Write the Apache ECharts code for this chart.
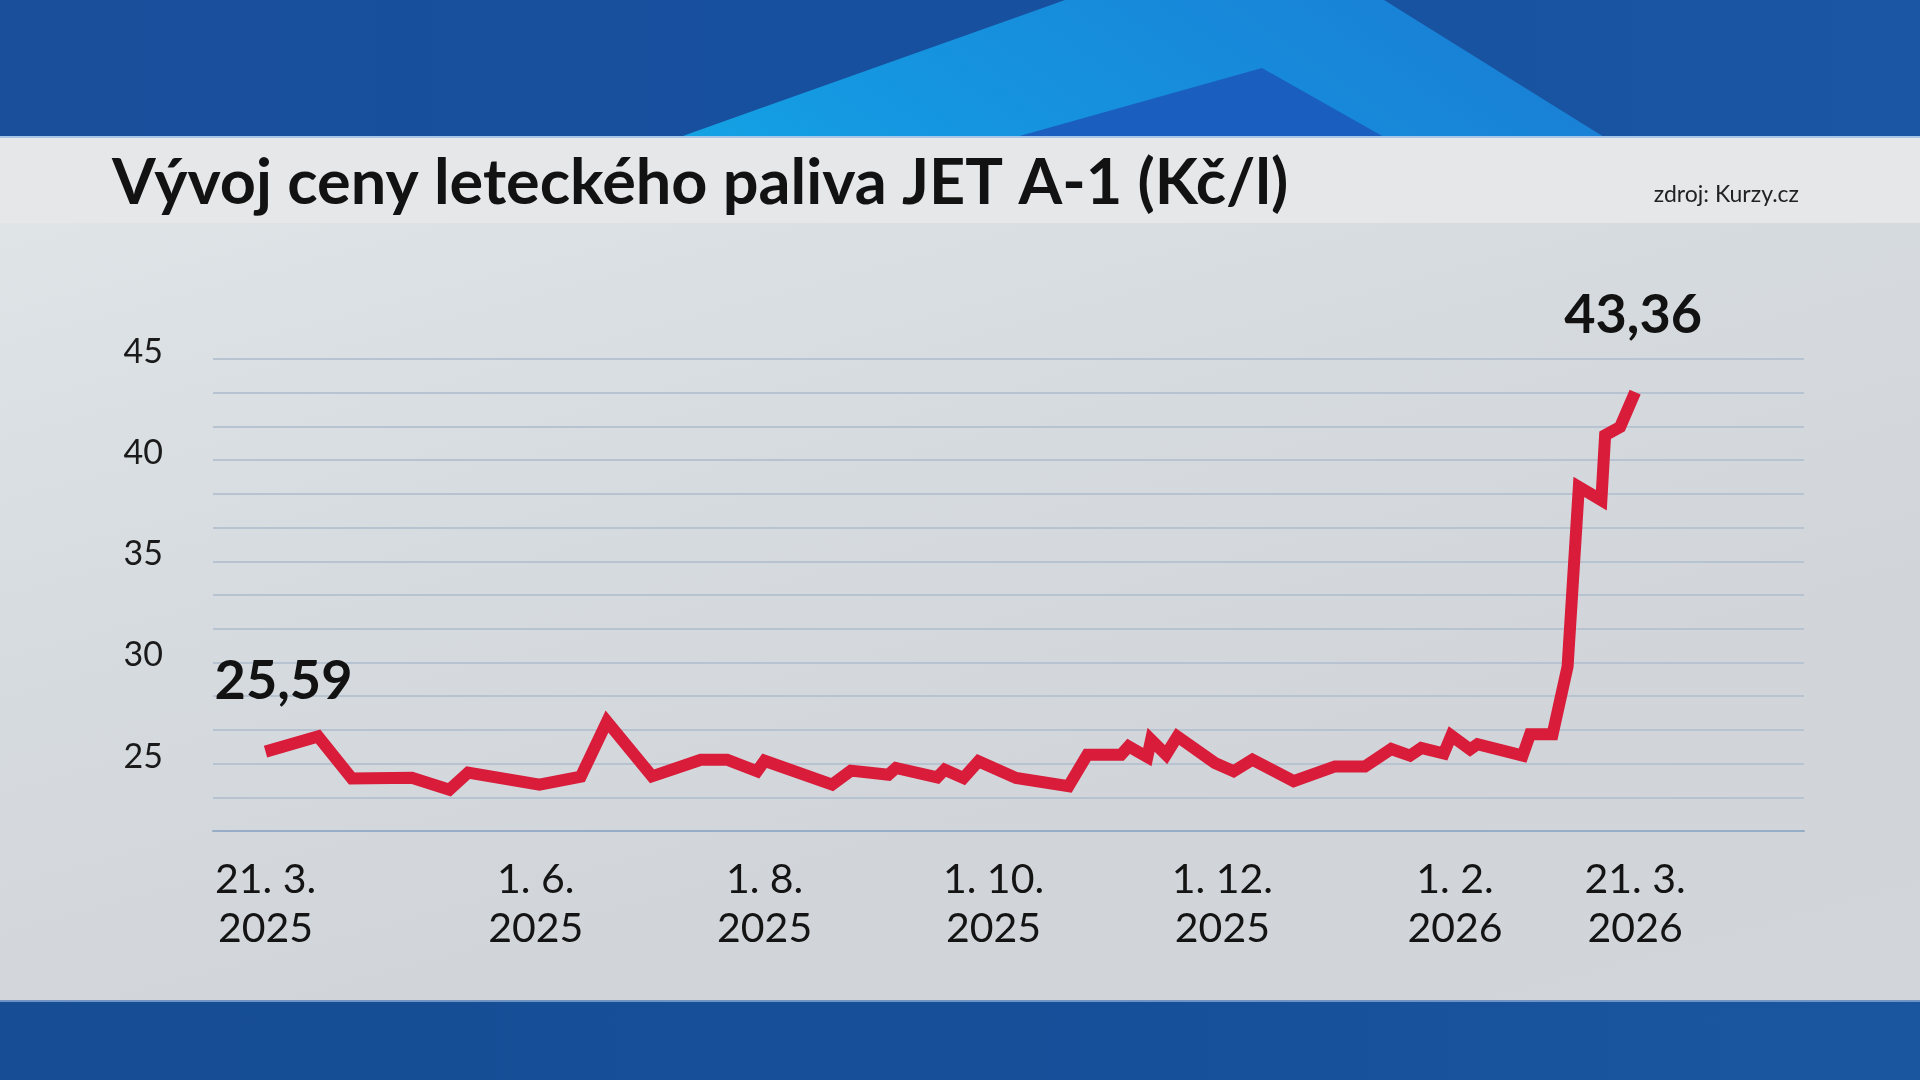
<!DOCTYPE html>
<html lang="cs">
<head>
<meta charset="utf-8">
<title>Vývoj ceny leteckého paliva JET A-1</title>
<script src="https://cdn.jsdelivr.net/npm/echarts@6/dist/echarts.min.js"></script>
<style>
  html, body { margin: 0; padding: 0; width: 1920px; height: 1080px; overflow: hidden; background: #17509c; }
  .top { position: absolute; left: 0; top: 0; width: 1920px; height: 137px;
         background: linear-gradient(90deg, #1a4f9b 0%, #16509f 50%, #1a56a3 100%); }
  .streak { position: absolute; left: 0; top: 0; width: 1920px; height: 137px;
            background: linear-gradient(35deg, #10c0ee 0%, #1596e0 45%, #1c72cf 100%);
            clip-path: polygon(680px 137px, 1065px 0, 1384px 0, 1604px 137px); }
  .inner { position: absolute; left: 0; top: 0; width: 1920px; height: 137px;
           background: #1a5fbf;
           clip-path: polygon(1016px 137px, 1262px 68px, 1384px 137px); }
  .band { position: absolute; left: 0; top: 136px; width: 1920px; height: 87px; background: #e6e7e9;
          border-top: 2px solid #a9c6ea; box-sizing: border-box; }
  .panel { position: absolute; left: 0; top: 223px; width: 1920px; height: 777px;
           background: linear-gradient(165deg, #dfe4e7 0%, #d6dbdf 35%, #d1d5da 70%, #d2d6db 100%); }
  .bottom { position: absolute; left: 0; top: 1000px; width: 1920px; height: 80px;
            background: linear-gradient(90deg, #164d94 0%, #17509a 60%, #1a56a0 100%);
            border-top: 2px solid #6f94c4; box-sizing: border-box; }
  #chart { position: absolute; left: 0; top: 0; width: 1920px; height: 1080px; }
</style>
</head>
<body>
<div class="top"></div>
<div class="streak"></div>
<div class="inner"></div>
<div class="band"></div>
<div class="panel"></div>
<div class="bottom"></div>
<div id="chart"></div>
<script>
// data (Kč/l)
const dates = [
  '2025-03-21', '2025-04-04', '2025-04-13', '2025-04-29', '2025-05-09', '2025-05-14',
  '2025-06-02', '2025-06-13', '2025-06-20', '2025-07-02', '2025-07-15', '2025-07-22',
  '2025-07-30', '2025-08-01', '2025-08-19', '2025-08-24', '2025-09-03', '2025-09-05',
  '2025-09-16', '2025-09-18', '2025-09-23', '2025-09-27', '2025-10-07', '2025-10-21',
  '2025-10-26', '2025-11-04', '2025-11-06', '2025-11-11', '2025-11-12', '2025-11-16',
  '2025-11-19', '2025-11-29', '2025-12-04', '2025-12-09', '2025-12-20', '2025-12-31',
  '2026-01-08', '2026-01-15', '2026-01-20', '2026-01-23', '2026-01-29', '2026-01-31',
  '2026-02-05', '2026-02-07', '2026-02-19', '2026-02-21', '2026-02-27', '2026-03-03',
  '2026-03-06', '2026-03-12', '2026-03-13', '2026-03-17', '2026-03-21'
]
const prices = [
  25.59, 26.34, 24.26, 24.30, 23.71, 24.55,
  23.96, 24.35, 27.08, 24.37, 25.19, 25.19,
  24.62, 25.14, 23.96, 24.65, 24.45, 24.78,
  24.32, 24.70, 24.29, 25.11, 24.29, 23.88,
  25.44, 25.44, 25.85, 25.32, 26.18, 25.44,
  26.34, 25.03, 24.62, 25.19, 24.13, 24.86,
  24.86, 25.72, 25.39, 25.77, 25.50, 26.38,
  25.70, 25.96, 25.39, 26.45, 26.45, 29.80,
  38.68, 38.02, 41.23, 41.64, 43.36
]
const tickDates = ['2025-03-21', '2025-06-01', '2025-08-01', '2025-10-01', '2025-12-01', '2026-02-01', '2026-03-21']
const yLabels = [25, 30, 35, 40, 45]

const toMs = s => {
  const [y, m, d] = s.split('-').map(Number)
  return Date.UTC(y, m - 1, d)
}
const fmt = v => v.toFixed(2).replace('.', ',')

const lastIdx = prices.length - 1
const seriesData = dates.map((d, i) => {
  const item = { value: [toMs(d), prices[i]] }
  if (i === 0) item.label = { show: true, offset: [18, -43] }
  if (i === lastIdx) item.label = { show: true, offset: [-2, -50] }
  return item
})

const chart = echarts.init(document.getElementById('chart'))

chart.setOption({
  animation: false,
  backgroundColor: 'transparent',
  textStyle: { fontFamily: 'Lato, "Noto Sans", sans-serif' },
  title: [
    {
      text: 'Vývoj ceny leteckého paliva JET A-1 (Kč/l)',
      left: 107,
      top: 141,
      textStyle: { fontFamily: 'Lato', fontWeight: 'bold', fontSize: 63, lineHeight: 76, color: '#121212' }
    },
    {
      text: 'zdroj: Kurzy.cz',
      right: 116,
      top: 176,
      textStyle: { fontFamily: 'Lato', fontWeight: 'normal', fontSize: 23, lineHeight: 28, color: '#222' }
    }
  ],
  grid: { left: 213, right: 116, top: 359, bottom: 249, containLabel: false },
  xAxis: {
    // dates as UTC timestamps on a linear axis
    type: 'value',
    min: toMs('2025-03-07'),
    max: toMs('2026-05-05'),
    axisLine: { show: true, lineStyle: { color: '#97adc6', width: 2 } },
    axisTick: { show: false },
    splitLine: { show: false },
    axisLabel: {
      customValues: tickDates.map(toMs),
      showMinLabel: true,
      showMaxLabel: true,
      margin: 24,
      fontSize: 41,
      lineHeight: 49,
      color: '#141414',
      formatter: v => {
        const d = new Date(v)
        return d.getUTCDate() + '. ' + (d.getUTCMonth() + 1) + '.\n' + d.getUTCFullYear()
      }
    }
  },
  yAxis: {
    type: 'value',
    min: 65 / 3,
    max: 45,
    interval: 5 / 3,
    axisLine: { show: false },
    axisTick: { show: false },
    splitLine: { show: true, lineStyle: { color: '#b7c3d1', width: 2 } },
    axisLabel: {
      margin: 50,
      fontSize: 34,
      lineHeight: 14,
      verticalAlign: 'bottom',
      color: '#1a1a1a',
      formatter: v => {
        const hit = yLabels.find(t => Math.abs(t - v) < 1e-6)
        return hit === undefined ? '' : String(hit)
      }
    }
  },
  series: [
    {
      type: 'line',
      data: seriesData,
      showSymbol: true,
      symbol: 'circle',
      symbolSize: 0,
      lineStyle: { color: '#d81c3a', width: 12, join: 'miter', miterLimit: 10, cap: 'butt' },
      itemStyle: { color: '#d81c3a' },
      label: {
        show: false,
        position: 'top',
        distance: 0,
        fontSize: 54,
        lineHeight: 54,
        fontWeight: 'bold',
        color: '#121212',
        formatter: p => fmt(p.value[1])
      },
      emphasis: { disabled: true },
      z: 5
    }
  ]
})
</script>
</body>
</html>
